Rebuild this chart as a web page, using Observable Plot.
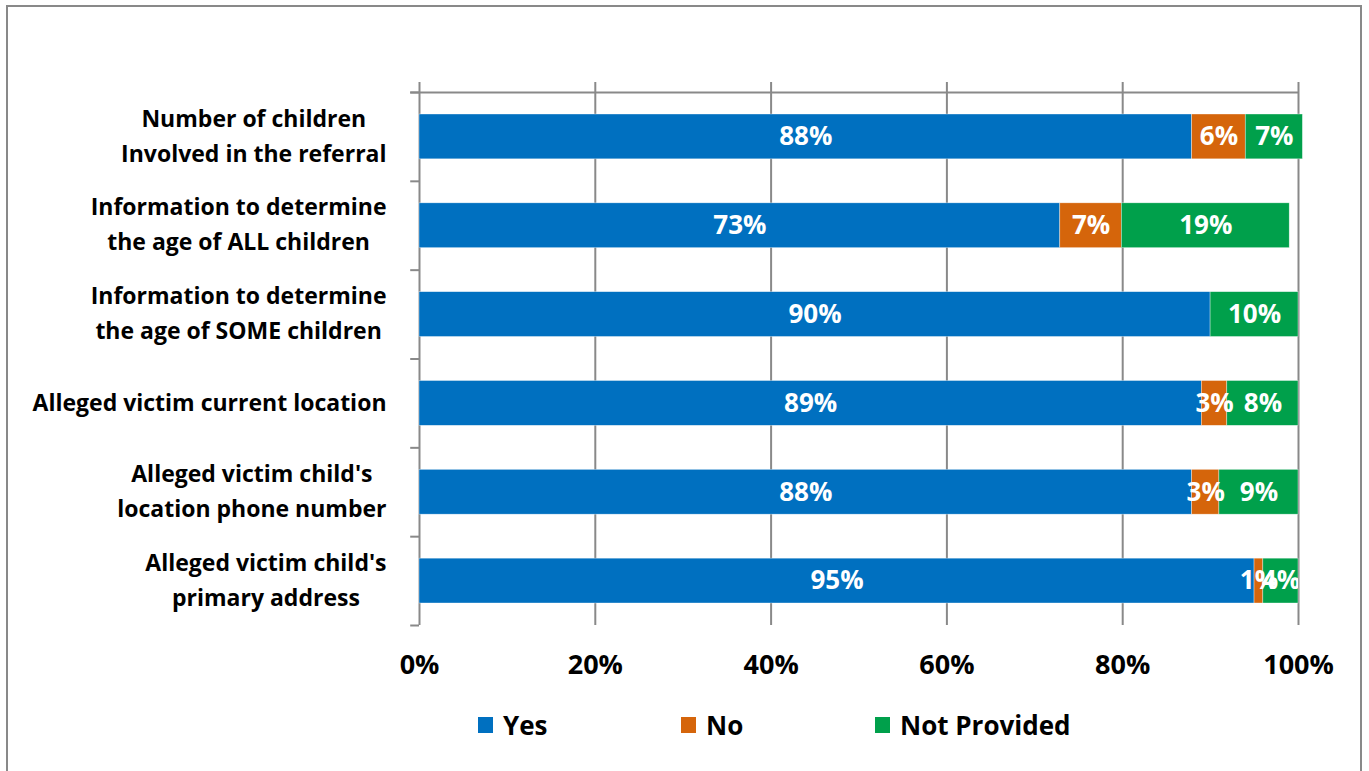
<!DOCTYPE html>
<html>
<head>
<meta charset="utf-8">
<script src="https://cdn.jsdelivr.net/npm/d3@7"></script>
<script src="https://cdn.jsdelivr.net/npm/@observablehq/plot@0.6"></script>
<style>
  body { margin: 0; background: #fff; font-family: "Open Sans", sans-serif; }
  #frame { position: absolute; left: 6px; top: 5px; width: 1356px; height: 800px; border: 2px solid #898989; box-sizing: border-box; }
  #chart { position: absolute; left: 0; top: 0; }
  #legend { position: absolute; left: 478px; top: 707px; display: flex; align-items: center; font-weight: bold; font-size: 26px; color: #000; font-family: "Open Sans", sans-serif; }
  #legend .item { display: flex; align-items: center; }
  #legend .sw { width: 15px; height: 16px; margin-right: 10px; }
</style>
</head>
<body>
<div id="frame"></div>
<div id="chart"></div>
<div id="legend"></div>
<script>
const categories = [
  "Number of children\nInvolved in the referral",
  "Information to determine\nthe age of ALL children",
  "Information to determine\nthe age of SOME children",
  "Alleged victim current location",
  "Alleged victim child's\nlocation phone number",
  "Alleged victim child's\nprimary address"
];
const seriesNames = ["Yes", "No", "Not Provided"];
const seriesColors = ["#0070C0", "#D5650B", "#00A04B"];
const yesValues = [87.9, 72.9, 90.0, 89.0, 87.9, 95.0];
const noValues = [6.1, 7.0, 0, 2.9, 3.1, 1.0];
const notProvidedValues = [6.5, 19.1, 10.0, 8.1, 9.0, 4.0];
const xTicks = [0, 20, 40, 60, 80, 100];

const seriesValues = [yesValues, noValues, notProvidedValues];
const rows = [];
categories.forEach((c, i) => {
  seriesValues.forEach((arr, k) => {
    rows.push({category: c, series: seriesNames[k], value: arr[i]});
  });
});

const W = 1369, H = 700, mTop = 92, mBottom = 75, mLeft = 419, mRight = 71;
const bw = (H - mTop - mBottom) / categories.length;
const FONT = "Open Sans";

const labelFont = 23;
const ctx = document.createElement("canvas").getContext("2d");
ctx.font = `bold ${labelFont}px "${FONT}"`;
const labelMarks = categories.map(c => {
  const w = Math.max(...c.split("\n").map(s => ctx.measureText(s).width));
  return Plot.text([c], {
    y: d => d, frameAnchor: "left", text: d => d, textAnchor: "middle",
    dx: -33 - w / 2, dy: -4, fontSize: labelFont, fontWeight: "bold", lineHeight: 1.52, fill: "#000"
  });
});

const grey = "#898989";
const chart = Plot.plot({
  width: W, height: H,
  marginTop: mTop, marginBottom: mBottom, marginLeft: mLeft, marginRight: mRight,
  style: {fontFamily: `"${FONT}", sans-serif`, background: "transparent", overflow: "visible"},
  x: {domain: [0, 100], axis: null},
  y: {domain: categories, padding: 0, round: false, axis: null},
  color: {domain: seriesNames, range: seriesColors},
  marks: [
    Plot.ruleX(xTicks, {stroke: grey, strokeWidth: 2, insetTop: -10}),
    Plot.ruleY(categories.slice(0, 1), {y: d => d, x1: -1, x2: 100, dy: -bw / 2, stroke: grey, strokeWidth: 2}),
    Plot.ruleY(categories, {y: d => d, x1: -1, x2: 0, dy: -bw / 2, stroke: grey, strokeWidth: 2}),
    Plot.ruleY(categories.slice(-1), {y: d => d, x1: -1, x2: 0, dy: bw / 2, stroke: grey, strokeWidth: 2}),
    Plot.barX(rows, Plot.stackX({x: "value", y: "category", fill: "series", insetTop: 22, insetBottom: 22, stroke: "#fff", strokeWidth: 0.6, strokeOpacity: 0.6})),
    Plot.text(rows.filter(d => d.value > 0), Plot.stackX({
      x: "value", y: "category", z: "series",
      text: d => Math.round(d.value) + "%",
      fill: "#fff", fontSize: 26, fontWeight: "bold", clip: true
    })),
    Plot.axisX(xTicks, {anchor: "bottom", label: null, tickSize: 0, tickPadding: 29, tickFormat: d => d + "%", fontSize: 27, fontWeight: "bold", fill: "#000"}),
    ...labelMarks
  ]
});
document.getElementById("chart").appendChild(chart);

const widths = [203, 194, null];
const legend = document.getElementById("legend");
seriesNames.forEach((s, i) => {
  const item = document.createElement("div");
  item.className = "item";
  if (widths[i]) item.style.width = widths[i] + "px";
  const sw = document.createElement("div");
  sw.className = "sw";
  sw.style.background = seriesColors[i];
  const t = document.createElement("span");
  t.textContent = s;
  item.appendChild(sw); item.appendChild(t);
  legend.appendChild(item);
});
</script>
</body>
</html>
